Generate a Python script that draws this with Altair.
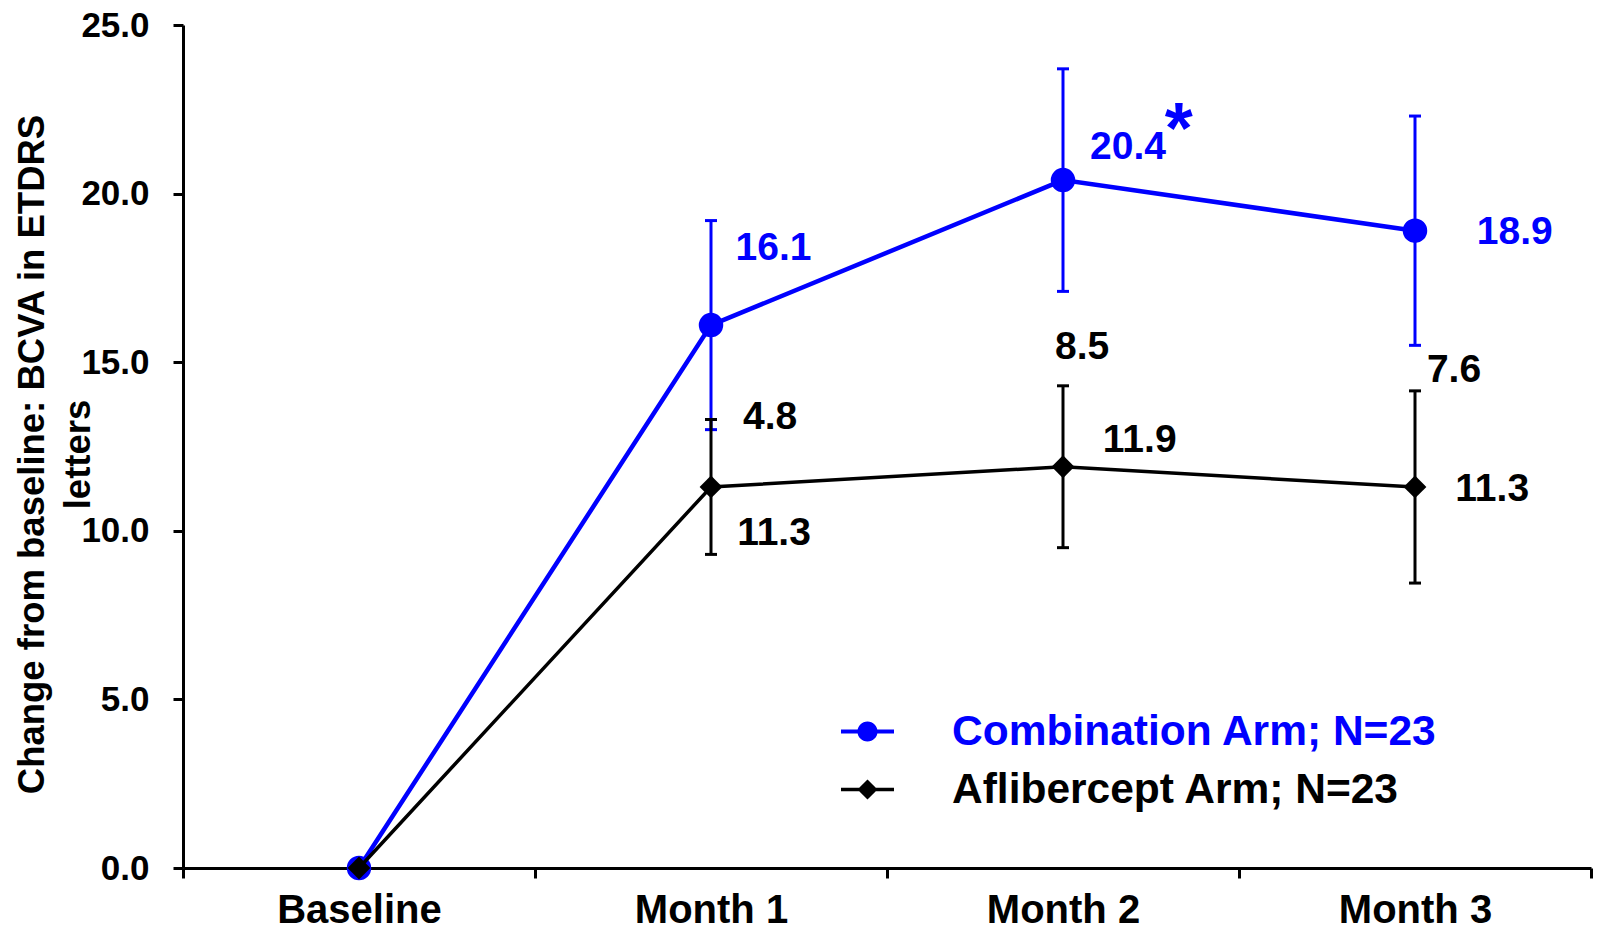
import altair as alt
import pandas as pd

# Visit labels and mean change in BCVA (ETDRS letters) with error half-widths
categories = ["Baseline", "Month 1", "Month 2", "Month 3"]
combo_mean = [0.0, 16.1, 20.4, 18.9]
combo_err = [None, 3.1, 3.3, 3.4]
aflib_mean = [0.0, 11.3, 11.9, 11.3]
aflib_err = [None, 2.0, 2.4, 2.85]
# Between-arm differences printed above the aflibercept bars
diff_labels = [None, "4.8", "8.5", "7.6"]

combo_name = "Combination Arm; N=23"
aflib_name = "Aflibercept Arm; N=23"
y_ticks = [0, 5, 10, 15, 20, 25]
y_title = ["Change from baseline: BCVA in ETDRS", "letters"]

BLUE = "#0000ff"
BLACK = "#000000"
FONT = "Liberation Sans, Arial, Helvetica, sans-serif"

W, H = 1408, 843


def arm_frame(name, means, errs):
    rows = []
    for cat, m, e in zip(categories, means, errs):
        rows.append({
            "category": cat,
            "mean": m,
            "lo": None if e is None else m - e,
            "hi": None if e is None else m + e,
            "arm": name,
        })
    return pd.DataFrame(rows)


def x_enc():
    return alt.X(
        "category:N",
        sort=categories,
        scale=alt.Scale(type="band", domain=categories, paddingInner=0, paddingOuter=0),
        bandPosition=0.5,
        title=None,
    )


def y_enc(field):
    return alt.Y(
        f"{field}:Q",
        scale=alt.Scale(domain=[0, 25], nice=False, zero=True),
        axis=alt.Axis(values=y_ticks, format=".1f"),
        title=y_title,
    )


def arm_layer(name, means, errs, color, shape, size, line_w, bar_w, legend_path, legend_y):
    df = arm_frame(name, means, errs)
    bars = df.dropna(subset=["lo"])
    col = alt.Color(
        "arm:N",
        scale=alt.Scale(domain=[name], range=[color]),
        legend=alt.Legend(
            title=None,
            orient="none",
            legendX=658,
            legendY=legend_y,
            padding=0,
            symbolType=legend_path,
            symbolSize=2809,
            symbolFillColor=color,
            symbolStrokeColor=color,
            symbolStrokeWidth=0,
            symbolOpacity=1,
            labelFont=FONT,
            labelFontSize=42.5,
            labelFontWeight="bold",
            labelColor=color,
            labelOffset=58,
            labelLimit=2000,
        ),
    )
    line = alt.Chart(df).mark_line(strokeWidth=line_w).encode(
        x=x_enc(), y=y_enc("mean"), color=col)
    stem = alt.Chart(bars).mark_rule(strokeWidth=bar_w).encode(
        x=x_enc(), y=y_enc("lo"), y2="hi:Q", color=col)
    cap_lo = alt.Chart(bars).mark_tick(size=12, thickness=3, opacity=1).encode(
        x=x_enc(), y=y_enc("lo"), color=col)
    cap_hi = alt.Chart(bars).mark_tick(size=12, thickness=3, opacity=1).encode(
        x=x_enc(), y=y_enc("hi"), color=col)
    pts = alt.Chart(df).mark_point(filled=True, shape=shape, size=size, opacity=1).encode(
        x=x_enc(), y=y_enc("mean"), color=col)
    return alt.layer(line, stem, cap_lo, cap_hi, pts)


def label(cat, anchor, text, color, dx, dy, size=39, baseline="middle"):
    d = pd.DataFrame({"category": [cat], "anchor": [anchor], "label": [text]})
    return alt.Chart(d).mark_text(
        font=FONT, fontSize=size, fontWeight="bold", color=color,
        align="center", baseline=baseline, dx=dx, dy=dy,
    ).encode(x=x_enc(), y=y_enc("anchor"), text="label:N")


circle_path = ("M-1,-0.075H1V0.075H-1Z "
               "M0.38,0A0.38,0.38 0 1,1 -0.38,0A0.38,0.38 0 1,1 0.38,0Z")
diamond_path = "M-1,-0.065H1V0.065H-1Z M0.38,0L0,0.38L-0.38,0L0,-0.38Z"

combo = arm_layer(combo_name, combo_mean, combo_err, BLUE, "circle", 600, 4.5, 3,
                  circle_path, 680)
aflib = arm_layer(aflib_name, aflib_mean, aflib_err, BLACK, "diamond", 520, 3.5, 3,
                  diamond_path, 738)

# label offsets (dx, dy) from the point each label belongs to
combo_off = [None, (62.5, -77), (65, -33), (99.7, 1)]
aflib_off = [None, (63, 46), (76.7, -27), (77.2, 2.5)]
diff_off = [None, (59.2, -70), (19.2, -120), (39, -117)]

texts = []
for i, cat in enumerate(categories):
    if combo_off[i] is not None:
        texts.append(label(cat, combo_mean[i], f"{combo_mean[i]:.1f}", BLUE, *combo_off[i]))
    if aflib_off[i] is not None:
        texts.append(label(cat, aflib_mean[i], f"{aflib_mean[i]:.1f}", BLACK, *aflib_off[i]))
    if diff_labels[i] is not None:
        texts.append(label(cat, aflib_mean[i], diff_labels[i], BLACK, *diff_off[i]))

# significance marker next to the Month 2 combination value
texts.append(label("Month 2", combo_mean[2], "*", BLUE, 115.7, -27, size=72,
                   baseline="alphabetic"))

chart = (
    alt.layer(combo, aflib, *texts)
    .resolve_scale(color="independent")
    .properties(
        width=W,
        height=H,
        autosize=alt.AutoSizeParams(type="none"),
        padding={"left": 183, "top": 25, "right": 8, "bottom": 64},
        background="white",
    )
    .configure_view(stroke=None)
    .configure_axis(
        grid=False,
        domainColor=BLACK,
        domainWidth=3,
        tickColor=BLACK,
        tickWidth=3,
        tickSize=10,
        labelColor=BLACK,
        labelFont=FONT,
        labelFontWeight="bold",
        titleFont=FONT,
        titleFontWeight="bold",
        titleColor=BLACK,
    )
    .configure_axisX(
        tickBand="extent",
        labelFontSize=40,
        labelPadding=12,
        labelAngle=0,
    )
    .configure_axisY(
        labelFontSize=35,
        labelPadding=24,
        titleFontSize=36.5,
        titleLineHeight=46,
        titleBaseline="alphabetic",
        titleAngle=270,
        titleAlign="center",
        titleX=-139.6,
        titleY=429,
    )
)

chart.save("out.html", embed_options={"renderer": "svg", "actions": False})
